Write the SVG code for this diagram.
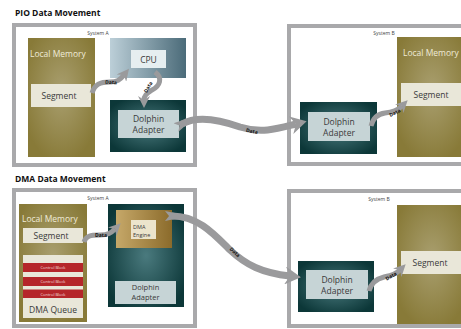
<svg xmlns="http://www.w3.org/2000/svg" width="461" height="329" viewBox="0 0 461 329">
<defs>
<radialGradient id="olive" cx="0.5" cy="0.45" r="0.6">
<stop offset="0" stop-color="#a99f6f"/>
<stop offset="1" stop-color="#887a38"/>
</radialGradient>
<radialGradient id="teal" cx="0.5" cy="0.5" r="0.6">
<stop offset="0" stop-color="#4a7a7e"/>
<stop offset="1" stop-color="#0c3738"/>
</radialGradient>
<linearGradient id="cpu" x1="0" y1="0" x2="1" y2="0">
<stop offset="0" stop-color="#bccfd8"/>
<stop offset="1" stop-color="#4b6b79"/>
</linearGradient>
<linearGradient id="gold" x1="0" y1="0" x2="1" y2="0">
<stop offset="0" stop-color="#c6a869"/>
<stop offset="1" stop-color="#8b6b2b"/>
</linearGradient>
<marker id="headS" viewBox="0 0 12 12" markerWidth="12" markerHeight="12" refX="4" refY="6" orient="auto" markerUnits="userSpaceOnUse">
<path d="M0,0 L12,6 L0,12 L4,6 z" fill="#9a9a9c"/>
</marker>
<marker id="headL" viewBox="0 0 16 18" markerWidth="16" markerHeight="18" refX="5" refY="9" orient="auto" markerUnits="userSpaceOnUse">
<path d="M0,0 L16,9 L0,18 L5,9 z" fill="#9a9a9c"/>
</marker>
<marker id="tailL" viewBox="0 0 10 12" markerWidth="10" markerHeight="12" refX="7" refY="6" orient="auto" markerUnits="userSpaceOnUse">
<path d="M10,3 L0,1 L4,6 L0,11 L10,9 z" fill="#9a9a9c"/>
</marker>
</defs>
<style>
.frame{fill:#ffffff;stroke:#a9a9ab;stroke-width:4}
.title{font-family:"Open Sans","Noto Sans",sans-serif;font-weight:bold;font-size:8.5px;fill:#111}
.sys{font-family:"Open Sans","Noto Sans",sans-serif;font-size:5px;fill:#444;text-anchor:middle}
.mem{fill:url(#olive)}
.memtxt{font-family:"Open Sans","Noto Sans",sans-serif;font-size:8.5px;fill:#efebd8}
.seg{fill:#e9e7d9}
.lbl{font-family:"Open Sans","Noto Sans",sans-serif;font-size:8.5px;fill:#3a3a3a;text-anchor:middle}
.lbls{font-family:"Open Sans","Noto Sans",sans-serif;font-size:7.5px;fill:#3a3a3a;text-anchor:middle}
.dark{fill:url(#teal)}
.dol{fill:#c6d4d6}
.red{fill:#b5262a}
.cb{font-family:"Open Sans","Noto Sans",sans-serif;font-size:4px;fill:#f2dede;text-anchor:middle}
.arS{fill:none;stroke:#9a9a9c;stroke-width:5;marker-end:url(#headS)}
.arL{fill:none;stroke:#9a9a9c;stroke-width:7;marker-end:url(#headL);marker-start:url(#tailL)}
.data{font-family:"Open Sans","Noto Sans",sans-serif;font-weight:bold;font-size:5px;fill:#111;text-anchor:middle}
</style>

<text class="title" x="15" y="16">PIO Data Movement</text>
<text class="title" x="15" y="182">DMA Data Movement</text>

<g id="pio-systemA">
<rect class="frame" x="14" y="25" width="181" height="140"/>
<text class="sys" x="98" y="35">System A</text>
</g>
<g id="pio-localmemA">
<rect class="mem" x="28" y="38" width="67" height="119"/>
<text class="memtxt" x="30" y="57">Local Memory</text>
</g>
<g id="pio-segmentA">
<rect class="seg" x="31" y="84" width="60" height="23"/>
<text class="lbl" x="59" y="98.5">Segment</text>
</g>
<g id="pio-cpu">
<rect x="110" y="38" width="76" height="40" fill="url(#cpu)"/>
<rect x="131" y="50" width="35" height="18" fill="#e6eef0"/>
<text class="lbl" x="148.5" y="62.5">CPU</text>
</g>
<g id="pio-adapterA">
<rect class="dark" x="110" y="100" width="76" height="52"/>
<rect class="dol" x="118" y="110" width="61" height="28"/>
<text class="lbl" x="148.5" y="122">Dolphin</text>
<text class="lbl" x="148.5" y="133">Adapter</text>
</g>

<g id="pio-systemB">
<rect class="frame" x="289" y="26" width="180" height="138"/>
<text class="sys" x="384" y="35">System B</text>
</g>
<g id="pio-adapterB">
<rect class="dark" x="300" y="102" width="77" height="52"/>
<rect class="dol" x="308" y="112" width="62" height="29"/>
<text class="lbl" x="339" y="124.5">Dolphin</text>
<text class="lbl" x="339" y="135.5">Adapter</text>
</g>
<g id="pio-localmemB">
<rect class="mem" x="397" y="37" width="70" height="120"/>
<text class="memtxt" x="403" y="56">Local Memory</text>
</g>
<g id="pio-segmentB">
<rect class="seg" x="401" y="83" width="66" height="23"/>
<text class="lbl" x="431" y="97.5">Segment</text>
</g>

<g id="dma-systemA">
<rect class="frame" x="14" y="190" width="181" height="136"/>
<text class="sys" x="98" y="200">System A</text>
</g>
<g id="dma-localmemA">
<rect class="mem" x="19" y="204" width="68" height="118"/>
<text class="memtxt" x="22" y="222">Local Memory</text>
</g>
<g id="dma-segmentA">
<rect class="seg" x="23" y="228" width="60" height="15"/>
<text class="lbl" x="51" y="239">Segment</text>
</g>
<g id="dma-queue">
<rect class="seg" x="23" y="255" width="60" height="63"/>
<rect class="red" x="23" y="263" width="60" height="9"/>
<text class="cb" x="53" y="269">Control Block</text>
<rect class="red" x="23" y="277" width="60" height="9"/>
<text class="cb" x="53" y="283">Control Block</text>
<rect class="red" x="23" y="289.5" width="60" height="8.5"/>
<text class="cb" x="53" y="295.5">Control Block</text>
<text class="lbl" x="53" y="312.5">DMA Queue</text>
</g>
<g id="dma-adapterA">
<rect class="dark" x="108" y="204" width="76" height="103"/>
<rect class="dol" x="115" y="281" width="61" height="23"/>
<text class="lbls" x="145.5" y="290">Dolphin</text>
<text class="lbls" x="145.5" y="300">Adapter</text>
</g>
<g id="dma-engine">
<rect x="116" y="210" width="56" height="38" fill="url(#gold)"/>
<rect x="131" y="220" width="25" height="19" fill="#ece4cc"/>
<text x="133" y="229" font-family="Open Sans, Noto Sans, sans-serif" font-size="5.5" fill="#3a3a3a">DMA</text>
<text x="133" y="236.5" font-family="Open Sans, Noto Sans, sans-serif" font-size="5.5" fill="#3a3a3a">Engine</text>
</g>

<g id="dma-systemB">
<rect class="frame" x="289" y="191" width="180" height="135"/>
<text class="sys" x="379" y="201">System B</text>
</g>
<g id="dma-adapterB">
<rect class="dark" x="298" y="261" width="76" height="51"/>
<rect class="dol" x="306" y="270" width="62" height="29"/>
<text class="lbl" x="337" y="282.5">Dolphin</text>
<text class="lbl" x="337" y="294">Adapter</text>
</g>
<g id="dma-localmemB">
<rect class="mem" x="397" y="205" width="70" height="119"/>
</g>
<g id="dma-segmentB">
<rect class="seg" x="401" y="251" width="66" height="23"/>
<text class="lbl" x="430" y="265.5">Segment</text>
</g>

<g id="connectors">
<path class="arS" d="M92,93 C95,84 100,82 110,82 C117,82 120,80 124,75"/>
<text class="data" x="111" y="84" transform="rotate(3 111 82)">Data</text>
<path class="arS" d="M155,72 C163,78 160,86 152,90 C146,94 144,96 144,100"/>
<text class="data" x="148" y="89" transform="rotate(-60 148 87)">Data</text>
<path class="arL" d="M182,124 C196,116 215,118 240,127 C262,134 280,128 296,124"/>
<text class="data" x="252" y="133" transform="rotate(12 252 131)">Data</text>
<path class="arS" d="M371,126 C373,118 377,114 385,113 C394,112 398,110 402,106"/>
<text class="data" x="395" y="114.5" transform="rotate(-25 395 113)">Data</text>

<path class="arS" d="M84,242 C86,236 90,235 100,235 C108,235 111,233 115,229"/>
<text class="data" x="101" y="236.5" transform="rotate(0 101 235)">Data</text>
<path class="arL" d="M172,216 C198,216 214,234 230,250 C246,265 262,273 290,276"/>
<text class="data" x="235" y="254" transform="rotate(42 235 252)">Data</text>
<path class="arS" d="M369,291 C371,283 376,279 384,277 C392,275 396,274 400,270"/>
<text class="data" x="391" y="278" transform="rotate(-30 391 276)">Data</text>
</g>
</svg>
